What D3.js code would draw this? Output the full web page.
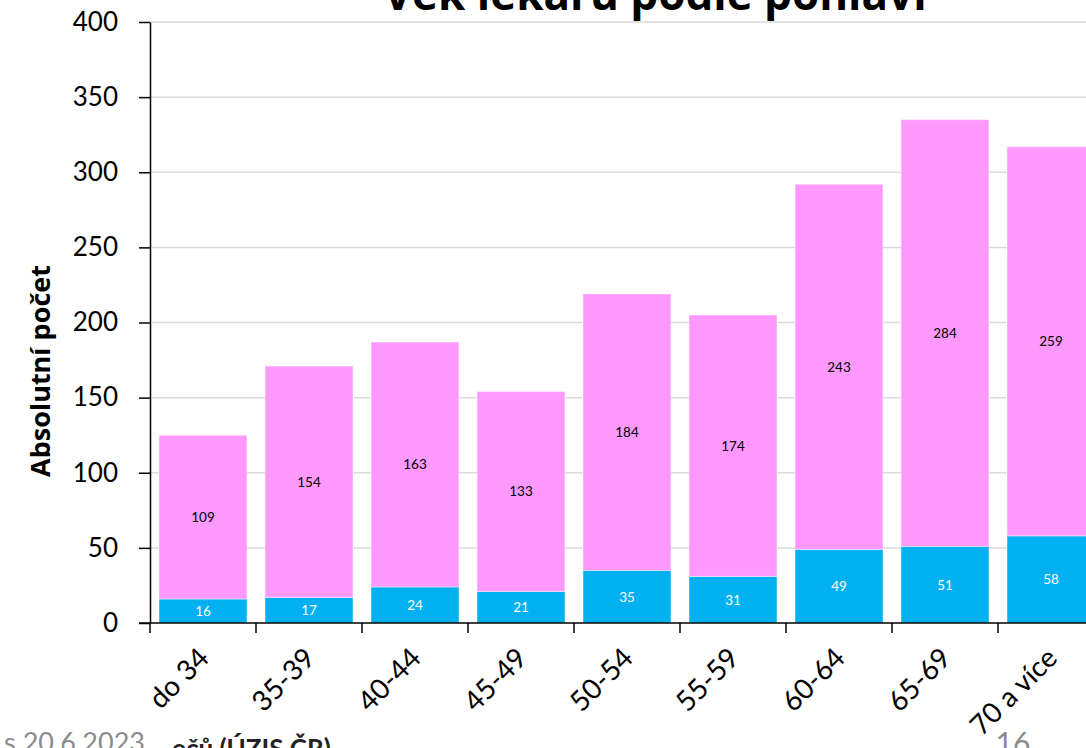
<!DOCTYPE html>
<html>
<head>
<meta charset="utf-8">
<script src="https://cdn.jsdelivr.net/npm/d3@7"></script>
<style>
  body { margin: 0; background: #fff; }
  svg { display: block; font-family: Lato, "Open Sans", sans-serif; }
</style>
</head>
<body>
<svg id="chart" width="1086" height="748"></svg>
<script>
const categories = ['do 34', '35-39', '40-44', '45-49', '50-54', '55-59', '60-64', '65-69', '70 a více'];
const muzi = [16, 17, 24, 21, 35, 31, 49, 51, 58];
const zeny = [109, 154, 163, 133, 184, 174, 243, 284, 259];
const yTicks = [0, 50, 100, 150, 200, 250, 300, 350, 400];

const width = 1086, height = 748;
const margin = { top: 22, left: 150, bottom: 125 };
const plotBottom = height - margin.bottom;

const svg = d3.select('#chart');

const x = d3.scaleBand()
  .domain(categories)
  .range([margin.left, margin.left + 9 * 106])
  .paddingInner(0.17)
  .paddingOuter(0.085);

const y = d3.scaleLinear()
  .domain([0, 400])
  .range([plotBottom, margin.top]);

// gridlines
svg.append('g')
  .selectAll('line')
  .data(yTicks.filter(d => d > 0))
  .enter()
  .append('line')
  .attr('x1', margin.left)
  .attr('x2', width)
  .attr('y1', d => y(d))
  .attr('y2', d => y(d))
  .attr('stroke', '#d9d9d9')
  .attr('stroke-width', 1.5);

// stacked data
const rows = categories.map((c, i) => ({ cat: c, muzi: muzi[i], zeny: zeny[i] }));
const stack = d3.stack().keys(['muzi', 'zeny'])(rows);
const colors = { muzi: '#00B0F0', zeny: '#FF99FF' };
const labelColor = { muzi: '#ffffff', zeny: '#000000' };

const layers = svg.append('g')
  .selectAll('g')
  .data(stack)
  .enter()
  .append('g')
  .attr('fill', d => colors[d.key]);

layers.selectAll('rect')
  .data(d => d)
  .enter()
  .append('rect')
  .attr('x', d => x(d.data.cat))
  .attr('width', x.bandwidth())
  .attr('y', d => y(d[1]))
  .attr('height', d => y(d[0]) - y(d[1]))
  .attr('stroke', '#ffffff')
  .attr('stroke-opacity', 0.45)
  .attr('stroke-width', 1);

// value labels
stack.forEach(layer => {
  svg.append('g')
    .selectAll('text')
    .data(layer)
    .enter()
    .append('text')
    .attr('x', d => x(d.data.cat) + x.bandwidth() / 2)
    .attr('y', d => y((d[0] + d[1]) / 2))
    .attr('dy', '0.36em')
    .attr('text-anchor', 'middle')
    .attr('fill', labelColor[layer.key])
    .style('font-size', '13.5px')
    .text(d => d[1] - d[0]);
});

// y axis
const yAxis = svg.append('g')
  .attr('transform', `translate(${margin.left},0)`)
  .call(d3.axisLeft(y).tickValues(yTicks).tickSize(11).tickPadding(21).tickSizeOuter(0));
yAxis.select('.domain').attr('stroke', '#000').attr('stroke-width', 1.5);
yAxis.selectAll('.tick line').attr('stroke', '#000').attr('stroke-width', 1.5);
yAxis.selectAll('text').style('font-size', '26px').attr('fill', '#000')
  .style('font-family', 'Lato, sans-serif');

// x axis
const xAxis = svg.append('g')
  .attr('transform', `translate(0,${plotBottom})`);
xAxis.append('line')
  .attr('x1', margin.left - 11)
  .attr('x2', width)
  .attr('stroke', '#000')
  .attr('stroke-width', 1.5);
xAxis.selectAll('line.tk')
  .data(d3.range(categories.length + 1))
  .enter()
  .append('line')
  .attr('class', 'tk')
  .attr('x1', i => margin.left + i * x.step())
  .attr('x2', i => margin.left + i * x.step())
  .attr('y1', 0)
  .attr('y2', 10)
  .attr('stroke', '#000')
  .attr('stroke-width', 1.5);
xAxis.selectAll('text')
  .data(categories)
  .enter()
  .append('text')
  .attr('transform', d => `translate(${x(d) + x.bandwidth() / 2 - 6},${23}) rotate(-45)`)
  .attr('text-anchor', 'end')
  .attr('dy', '0.7em')
  .style('font-size', '28px')
  .attr('fill', '#000')
  .text(d => d);

// y axis title
svg.append('text')
  .attr('transform', `translate(50,371) rotate(-90)`)
  .attr('text-anchor', 'middle')
  .style('font-size', '27px')
  .style('font-weight', 'bold')
  .style('font-family', '"Open Sans", sans-serif')
  .text('Absolutní počet');

// title (clipped at the top)
svg.append('text')
  .attr('x', 655)
  .attr('y', 10)
  .attr('text-anchor', 'middle')
  .style('font-size', '44px')
  .style('font-weight', 'bold')
  .style('font-family', '"Open Sans", sans-serif')
  .text('Věk lékařů podle pohlaví');

// footer texts (clipped at the bottom)
svg.append('text')
  .attr('x', 145)
  .attr('y', 752)
  .attr('text-anchor', 'end')
  .attr('fill', '#8c8c8c')
  .style('font-size', '27px')
  .text('s 20.6.2023');
svg.append('text')
  .attr('x', 172)
  .attr('y', 758)
  .attr('fill', '#222')
  .style('font-size', '26px')
  .style('font-weight', 'bold')
  .text('ečů (ÚZIS ČR)');
svg.append('text')
  .attr('x', 1013)
  .attr('y', 754)
  .attr('text-anchor', 'middle')
  .attr('fill', '#8c8c8c')
  .style('font-size', '30px')
  .text('16');
</script>
</body>
</html>
